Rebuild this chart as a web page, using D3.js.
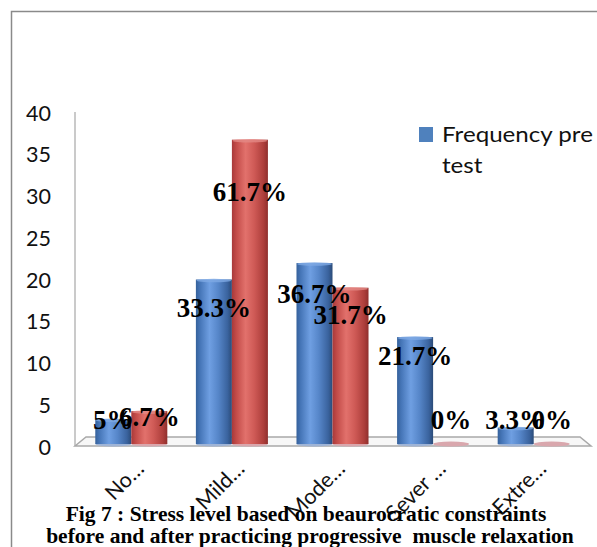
<!DOCTYPE html>
<html>
<head>
<meta charset="utf-8">
<script src="https://cdn.jsdelivr.net/npm/d3@7/dist/d3.min.js"></script>
<style>
  html, body { margin: 0; padding: 0; background: #fff; }
  svg { display: block; }
</style>
</head>
<body>
<svg id="chart" width="597" height="547"></svg>
<script>
// Stress level categories (labels as truncated on the axis)
const categories = ["No…", "Mild…", "Mode…", "Sever …", "Extre…"];
const seriesNames = ["Frequency pre test", "Frequency post test"];
// Number of respondents in each category
const preTest  = [3, 20, 22, 13, 2];
const postTest = [4, 37, 19, 0, 0];
const respondents = 60;
const yTicks = [0, 5, 10, 15, 20, 25, 30, 35, 40];
const captionLines = [
  "Fig 7 : Stress level based on beaurocratic constraints",
  "before and after practicing progressive  muscle relaxation"
];

const svg = d3.select("#chart");

// outer chart frame
svg.append("rect")
  .attr("x", 11.5).attr("y", 11.5)
  .attr("width", 800).attr("height", 800)
  .attr("fill", "none").attr("stroke", "#8a8a8a").attr("stroke-width", 1.5);

// scales: bars sit mid-depth, axis labels on the front plane
const y = d3.scaleLinear().domain([0, 40]).range([444, 115]);
const yFront = d3.scaleLinear().domain([0, 40]).range([447, 113]);
const x = d3.scaleBand().domain(categories).range([81, 584])
  .paddingInner(0.284).paddingOuter(0.142);
const xs = d3.scaleBand().domain(seriesNames).range([0, x.bandwidth()]);

const defs = svg.append("defs");
function cyl(id, stops) {
  const g = defs.append("linearGradient").attr("id", id)
    .attr("x1", "0%").attr("x2", "100%").attr("y1", "0%").attr("y2", "0%");
  stops.forEach(s => g.append("stop").attr("offset", s[0]).attr("stop-color", s[1]));
}
cyl("gBlue", [["0%", "#35619b"], ["12%", "#4676b8"], ["38%", "#6f9fe2"], ["62%", "#5686c9"], ["88%", "#3a639e"], ["100%", "#2b4b78"]]);
cyl("gRed",  [["0%", "#a8393a"], ["12%", "#c24b48"], ["38%", "#e2716c"], ["62%", "#cf5a56"], ["88%", "#ad3e3b"], ["100%", "#8f2f2d"]]);
const fills = ["url(#gBlue)", "url(#gRed)"];
const capFill = ["#7ea9e4", "#e48a86"];
const baseFill = ["#9fb4d6", "#d9a7ad"];

// back wall edge and floor
svg.append("line")
  .attr("x1", 75).attr("x2", 75).attr("y1", y(40) - 3).attr("y2", 446)
  .attr("stroke", "#b9b9b9").attr("stroke-width", 1.5);
svg.append("path")
  .attr("d", "M75,446 L86,437 L580,437 L591,446 Z")
  .attr("fill", "#f7f7f7").attr("stroke", "#a9a9a9").attr("stroke-width", 1.5);

// y tick labels
svg.append("g").selectAll("text").data(yTicks).join("text")
  .attr("x", 51).attr("y", d => yFront(d))
  .attr("dy", "0.36em").attr("text-anchor", "end")
  .attr("font-family", "Lato, 'Open Sans', sans-serif").attr("font-size", 21.5)
  .attr("fill", "#111").text(d => d);

// bars
const series = [preTest, postTest];
const bars = [];
series.forEach((vals, si) => {
  vals.forEach((v, ci) => {
    bars.push({ si, cat: categories[ci], v });
  });
});
const gBars = svg.append("g");
bars.forEach(b => {
  const x0 = x(b.cat) + xs(seriesNames[b.si]);
  const w = xs.bandwidth();
  gBars.append("ellipse")
    .attr("cx", x0 + w / 2).attr("cy", y(0)).attr("rx", w / 2).attr("ry", 2.5)
    .attr("fill", baseFill[b.si]);
  if (b.v > 0) {
    gBars.append("rect")
      .attr("x", x0).attr("y", y(b.v))
      .attr("width", w).attr("height", y(0) - y(b.v))
      .attr("fill", fills[b.si]);
    gBars.append("ellipse")
      .attr("cx", x0 + w / 2).attr("cy", y(b.v) + 1).attr("rx", w / 2 - 0.5).attr("ry", 1.8)
      .attr("fill", capFill[b.si]).attr("opacity", 0.8);
  }
});

// percentage labels
const pct = v => (Math.round(v / respondents * 1000) / 10) + "%";
svg.append("g").selectAll("text").data(bars).join("text")
  .attr("x", d => x(d.cat) + xs(seriesNames[d.si]) + xs.bandwidth() / 2)
  .attr("y", d => y(Math.max(d.v * 0.83, 3)))
  .attr("dy", "0.35em").attr("text-anchor", "middle")
  .attr("font-family", "'Liberation Serif', 'Times New Roman', serif")
  .attr("font-weight", "bold").attr("font-size", 27).attr("fill", "#000")
  .text(d => pct(d.v));

// category labels, rotated
svg.append("g").selectAll("text").data(categories).join("text")
  .attr("transform", d => `translate(${x(d) + x.bandwidth() / 2 + 14},470) rotate(-45)`)
  .attr("text-anchor", "end")
  .attr("font-family", "Lato, 'Open Sans', sans-serif").attr("font-size", 21.5)
  .attr("fill", "#111").text(d => d);

// legend (first entry)
svg.append("rect").attr("x", 419).attr("y", 127).attr("width", 14).attr("height", 15)
  .attr("fill", "#4f81bd");
const lt = svg.append("text")
  .attr("transform", "translate(442,0) scale(1.15,1)")
  .attr("font-family", "Lato, 'Open Sans', sans-serif").attr("font-size", 21).attr("fill", "#111");
lt.append("tspan").attr("x", 0).attr("y", 142).text("Frequency pre");
lt.append("tspan").attr("x", 0).attr("y", 173).text("test");

// caption
svg.append("g").selectAll("text").data(captionLines).join("text")
  .attr("x", (d, i) => i === 0 ? 306 : 310)
  .attr("y", (d, i) => i === 0 ? 521 : 543)
  .attr("text-anchor", "middle")
  .attr("font-family", "'Liberation Serif', 'Times New Roman', serif")
  .attr("font-weight", "bold").attr("font-size", 21.5).attr("fill", "#000")
  .style("white-space", "pre")
  .text(d => d);
</script>
</body>
</html>
